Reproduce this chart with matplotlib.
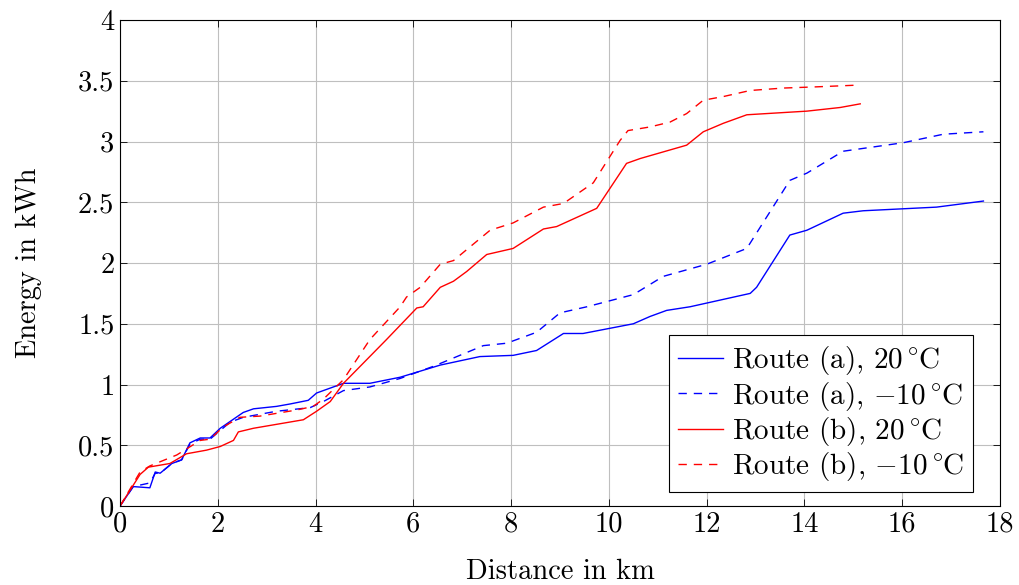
import matplotlib.pyplot as plt
from matplotlib.ticker import FuncFormatter

plt.rcParams['font.family'] = 'cmr10'
plt.rcParams['mathtext.fontset'] = 'cm'
plt.rcParams['axes.formatter.use_mathtext'] = True

# route (a), 20 C
xa20 = [0, 0.27, 0.61, 0.72, 0.82, 1.06, 1.26, 1.43, 1.64, 1.84, 2.05, 2.52, 2.73, 3.2, 3.48,
        3.85, 4.02, 4.57, 5.11, 5.73, 6.55, 7.36, 8.04, 8.52, 9.07, 9.47, 10.5, 10.84, 11.18,
        11.66, 12.89, 13.02, 13.7, 14.05, 14.79, 15.2, 16.7, 17.66]
ya20 = [0, 0.16, 0.15, 0.28, 0.27, 0.35, 0.38, 0.52, 0.56, 0.56, 0.64, 0.77, 0.80, 0.82, 0.84,
        0.87, 0.93, 1.01, 1.01, 1.06, 1.16, 1.23, 1.24, 1.28, 1.42, 1.42, 1.50, 1.56, 1.61,
        1.64, 1.75, 1.80, 2.23, 2.27, 2.41, 2.43, 2.46, 2.51]

# route (a), -10 C
xa10 = [0, 0.27, 0.61, 0.72, 0.82, 1.06, 1.26, 1.43, 1.64, 1.84, 2.25, 2.52, 3.2, 3.89, 4.16,
        4.57, 5.11, 5.73, 6.41, 7.43, 7.91, 8.52, 9.0, 9.55, 10.5, 11.11, 12.0, 12.82, 13.7,
        14.05, 14.79, 16.02, 16.84, 17.66]
ya10 = [0, 0.16, 0.19, 0.27, 0.27, 0.35, 0.38, 0.51, 0.55, 0.55, 0.69, 0.73, 0.78, 0.81, 0.86,
        0.95, 0.98, 1.05, 1.15, 1.32, 1.34, 1.43, 1.59, 1.64, 1.74, 1.89, 1.99, 2.12, 2.68,
        2.74, 2.92, 2.99, 3.06, 3.08]

# route (b), 20 C
xb20 = [0, 0.41, 0.58, 1.02, 1.36, 1.77, 2.05, 2.32, 2.42, 2.73, 3.75, 4.02, 4.3, 4.57, 5.45,
        6.07, 6.2, 6.55, 6.82, 7.09, 7.5, 8.04, 8.66, 8.93, 9.75, 10.36, 10.64, 11.59, 11.93,
        12.34, 12.82, 14.05, 14.73, 15.14]
yb20 = [0, 0.26, 0.32, 0.35, 0.43, 0.46, 0.49, 0.54, 0.61, 0.64, 0.71, 0.78, 0.86, 1.01, 1.37,
        1.63, 1.64, 1.80, 1.85, 1.93, 2.07, 2.12, 2.28, 2.30, 2.45, 2.82, 2.86, 2.97, 3.08,
        3.15, 3.22, 3.25, 3.28, 3.31]

# route (b), -10 C
xb10 = [0, 0.41, 0.61, 1.16, 1.64, 1.84, 2.11, 2.45, 2.86, 3.61, 3.95, 4.16, 4.57, 5.11, 5.73,
        5.86, 6.14, 6.55, 6.82, 7.57, 8.04, 8.66, 9.07, 9.68, 10.23, 10.39, 10.84, 11.25,
        11.59, 11.93, 12.34, 12.89, 13.57, 14.25, 15.14]
yb10 = [0, 0.28, 0.33, 0.42, 0.54, 0.55, 0.65, 0.73, 0.74, 0.79, 0.82, 0.88, 1.04, 1.37, 1.64,
        1.72, 1.80, 1.99, 2.02, 2.27, 2.33, 2.46, 2.49, 2.66, 3.01, 3.09, 3.12, 3.16,
        3.23, 3.34, 3.37, 3.42, 3.44, 3.45, 3.465]

deg = r'^{\circ}\hspace{-0.06}\mathrm{C}'
labels = [r'Route (a), $20\,' + deg + '$', r'Route (a), $-10\,' + deg + '$',
          r'Route (b), $20\,' + deg + '$', r'Route (b), $-10\,' + deg + '$']

fs = 20.5

fig = plt.figure(figsize=(10.19, 5.85), dpi=100)
ax = fig.add_axes([0.1178, 0.135, 0.8636, 0.8308])

ax.plot(xa20, ya20, color='#0000ff', lw=1.0, label=labels[0])
ax.plot(xa10, ya10, color='#0000ff', lw=1.0, dashes=(6, 5), label=labels[1])
ax.plot(xb20, yb20, color='#ff0000', lw=1.0, label=labels[2])
ax.plot(xb10, yb10, color='#ff0000', lw=1.0, dashes=(6, 5), label=labels[3])

ax.set_xlim(0, 18)
ax.set_ylim(0, 4)
ax.set_xticks(range(0, 19, 2))
ax.set_yticks([i * 0.5 for i in range(9)])
ax.xaxis.set_major_formatter(FuncFormatter(lambda v, p: '%g' % v))
ax.yaxis.set_major_formatter(FuncFormatter(lambda v, p: '%g' % v))
ax.tick_params(direction='in', top=True, right=True, labelsize=fs, length=5, width=0.6, pad=4)
ax.grid(True, color='#bfbfbf', lw=0.8)
ax.set_axisbelow(True)
for s in ax.spines.values():
    s.set_linewidth(0.8)

ax.set_xlabel('Distance in km', fontsize=fs, labelpad=15)
ax.set_ylabel('Energy in kWh', fontsize=fs, labelpad=26)

leg = ax.legend(loc='lower right', bbox_to_anchor=(0.9549, 0.159), bbox_transform=fig.transFigure,
                borderaxespad=0, fontsize=21, handlelength=1.55, handletextpad=0.3,
                labelspacing=0.08, borderpad=0.3, framealpha=1, fancybox=False,
                edgecolor='black')
leg.get_frame().set_linewidth(0.8)

fig.savefig('out.png', dpi=100)
